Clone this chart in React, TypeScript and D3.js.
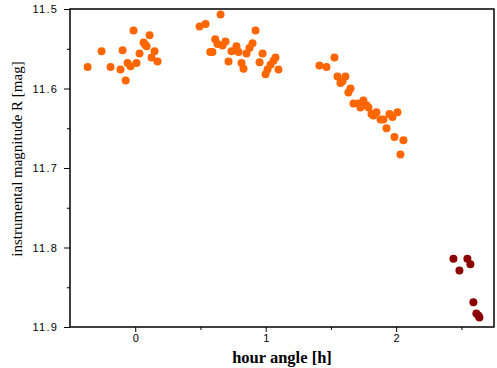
import React, { useEffect, useRef } from "react";
import * as d3 from "d3";

// hour angle [h] / instrumental magnitude R [mag]
const orangeX = [
  -0.365, -0.258, -0.189, -0.113, -0.097, -0.073, -0.059, -0.036, -0.013, 0.01, 0.033, 0.064,
  0.076, 0.087, 0.11, 0.125, 0.148, 0.171,
  0.493, 0.539, 0.575, 0.654, 0.613, 0.631, 0.669, 0.692, 0.592, 0.715, 0.738, 0.776, 0.792,
  0.815, 0.83, 0.853, 0.876, 0.899, 0.922, 0.976, 0.953, 0.999, 1.014, 1.037, 1.06, 1.075, 1.098,
  1.412, 1.466, 1.527, 1.55, 1.611, 1.573, 1.589, 1.634, 1.65, 1.673, 1.711, 1.726, 1.749,
  1.772, 1.788, 1.811, 1.826, 1.849, 1.88, 1.903, 1.926, 1.949, 1.972, 2.01, 1.987, 2.056, 2.033,
];
const orangeY = [
  11.573, 11.553, 11.573, 11.576, 11.552, 11.59, 11.568, 11.572, 11.527, 11.568, 11.556, 11.542,
  11.545, 11.547, 11.533, 11.561, 11.553, 11.566,
  11.522, 11.519, 11.554, 11.507, 11.538, 11.544, 11.546, 11.541, 11.554, 11.566, 11.553, 11.547, 11.554,
  11.568, 11.575, 11.556, 11.549, 11.543, 11.527, 11.556, 11.567, 11.582, 11.576, 11.57, 11.565, 11.561, 11.576,
  11.571, 11.573, 11.561, 11.585, 11.585, 11.593, 11.591, 11.605, 11.6, 11.619, 11.619, 11.624, 11.615,
  11.621, 11.624, 11.632, 11.634, 11.63, 11.639, 11.639, 11.65, 11.632, 11.636, 11.63, 11.661, 11.665, 11.683,
];
const redX = [2.439, 2.485, 2.546, 2.569, 2.592, 2.615, 2.631, 2.638];
const redY = [11.814, 11.829, 11.814, 11.821, 11.869, 11.883, 11.886, 11.888];

const xMajor = [0, 1, 2];
const xMinor = [0.5, 1.5, 2.5];
const yMajor = [11.5, 11.6, 11.7, 11.8, 11.9];
const yMinor = [11.55, 11.65, 11.75, 11.85];

const App = () => {
  const svgRef = useRef<SVGSVGElement>(null);

  useEffect(() => {
    const width = 497;
    const height = 368;
    const margin = { top: 9, right: 3, bottom: 41, left: 70 };

    const svg = d3.select(svgRef.current);
    svg.selectAll("*").remove();

    const x = d3.scaleLinear().domain([-0.5, 2.75]).range([margin.left, width - margin.right]);
    const y = d3.scaleLinear().domain([11.5, 11.9]).range([margin.top, height - margin.bottom]);

    const tickFont = "'Liberation Sans', Arial, sans-serif";

    // x axis
    const gx = svg.append("g").attr("transform", `translate(0,${height - margin.bottom})`);
    gx.call(d3.axisBottom(x).tickValues(xMajor).tickSize(5).tickFormat(d3.format("d")));
    gx.append("g").call(d3.axisBottom(x).tickValues(xMinor).tickSize(3).tickFormat(() => ""));
    gx.selectAll(".domain").remove();
    gx.selectAll("text").attr("font-family", tickFont).attr("font-size", 11).attr("fill", "#000").attr("dy", "0.6em");

    // y axis
    const gy = svg.append("g").attr("transform", `translate(${margin.left},0)`);
    gy.call(d3.axisLeft(y).tickValues(yMajor).tickSize(6).tickFormat(d3.format(".1f")));
    gy.append("g").call(d3.axisLeft(y).tickValues(yMinor).tickSize(3).tickFormat(() => ""));
    gy.selectAll(".domain").remove();
    gy.selectAll("text")
      .attr("font-family", tickFont)
      .attr("font-size", 11)
      .attr("letter-spacing", "1.2px")
      .attr("fill", "#000")
      .attr("dx", "-3px");

    svg.selectAll(".tick line").attr("stroke", "#000");

    // frame
    svg.append("rect")
      .attr("x", margin.left)
      .attr("y", margin.top)
      .attr("width", width - margin.right - margin.left)
      .attr("height", height - margin.bottom - margin.top)
      .attr("fill", "none")
      .attr("stroke", "#000")
      .attr("stroke-width", 1.5);

    svg.append("g").selectAll("circle")
      .data(d3.range(orangeX.length))
      .join("circle")
      .attr("cx", (i) => x(orangeX[i]))
      .attr("cy", (i) => y(orangeY[i]))
      .attr("r", 4)
      .attr("fill", "#ff6600");

    svg.append("g").selectAll("circle")
      .data(d3.range(redX.length))
      .join("circle")
      .attr("cx", (i) => x(redX[i]))
      .attr("cy", (i) => y(redY[i]))
      .attr("r", 4)
      .attr("fill", "#8b0000");

    const serif = "'Liberation Serif', 'Times New Roman', serif";
    svg.append("text")
      .attr("x", (margin.left + width - margin.right) / 2)
      .attr("y", 363)
      .attr("text-anchor", "middle")
      .attr("font-family", serif)
      .attr("font-weight", "bold")
      .attr("font-size", 16.5)
      .text("hour angle [h]");

    svg.append("text")
      .attr("transform", `translate(22,159) rotate(-90)`)
      .attr("text-anchor", "middle")
      .attr("font-family", serif)
      .attr("font-size", 15)
      .text("instrumental magnitude R [mag]");
  }, []);

  return (
    <svg
      ref={svgRef}
      width={497}
      height={368}
      style={{ position: "absolute", left: 0, top: 0, background: "#fff" }}
    />
  );
};

export default App;
